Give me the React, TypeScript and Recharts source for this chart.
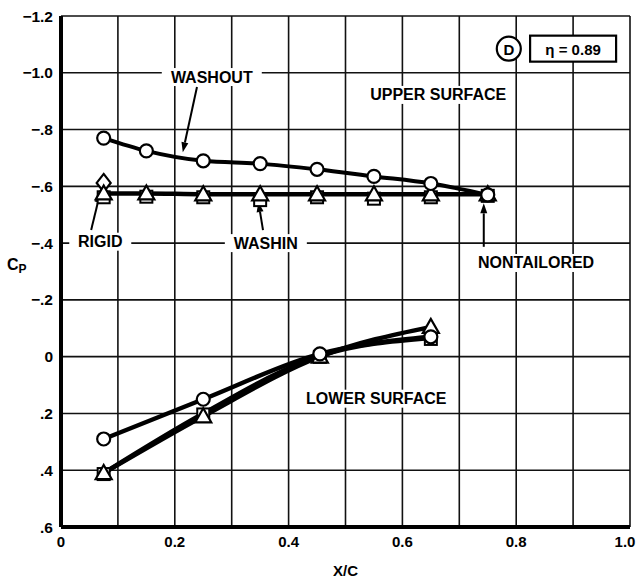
import React from "react";
import {
  ComposedChart,
  Line,
  XAxis,
  YAxis,
  CartesianGrid,
  ReferenceDot,
  ReferenceLine,
} from "recharts";

// chordwise stations
const upperX = [0.075, 0.15, 0.25, 0.35, 0.45, 0.55, 0.65, 0.75];
const lowerX = [0.075, 0.25, 0.455, 0.65];

// upper surface Cp
const washoutUpper = [-0.77, -0.725, -0.69, -0.68, -0.66, -0.635, -0.61, -0.57];
const nontailoredUpper = [-0.575, -0.575, -0.572, -0.572, -0.572, -0.572, -0.572, -0.572];
const washinUpper = [-0.565, -0.567, -0.565, -0.555, -0.565, -0.56, -0.565, -0.57];
const rigidX = [0.075];
const rigidUpper = [-0.612];

// lower surface Cp
const washoutLower = [0.29, 0.15, -0.01, -0.07];
const nontailoredLower = [0.41, 0.21, 0.0, -0.105];
const washinLower = [0.41, 0.2, -0.003, -0.066];

const xTicks = [0, 0.1, 0.2, 0.3, 0.4, 0.5, 0.6, 0.7, 0.8, 0.9, 1.0];
const yTicks = [-1.2, -1.0, -0.8, -0.6, -0.4, -0.2, 0, 0.2, 0.4, 0.6];
const yLabels = ["\u22121.2", "\u22121.0", "\u2212.8", "\u2212.6", "\u2212.4", "\u2212.2", "0", ".2", ".4", ".6"];
const xLabels = ["0", "", "0.2", "", "0.4", "", "0.6", "", "0.8", "", "1.0"];

const FONT = "'Liberation Sans', Arial, sans-serif";

const pts = (xs: number[], ys: number[]) => xs.map((x, i) => ({ x, y: ys[i] }));

const Circle = (p: any) => (
  <circle key={p.index} cx={p.cx} cy={p.cy} r={6.5} fill="#fff" stroke="#000" strokeWidth={2.2} />
);
const Triangle = (p: any) => (
  <polygon
    key={p.index}
    points={`${p.cx},${p.cy - 8} ${p.cx - 8},${p.cy + 6} ${p.cx + 8},${p.cy + 6}`}
    fill="#fff"
    stroke="#000"
    strokeWidth={2.2}
  />
);
const Square = (p: any) => (
  <rect key={p.index} x={p.cx - 6} y={p.cy - 5} width={12} height={12} fill="#fff" stroke="#000" strokeWidth={2} />
);
const Diamond = (p: any) => (
  <polygon
    key={p.index}
    points={`${p.cx},${p.cy - 9} ${p.cx + 7},${p.cy} ${p.cx},${p.cy + 9} ${p.cx - 7},${p.cy}`}
    fill="#fff"
    stroke="#000"
    strokeWidth={2.2}
  />
);

const Arrow = (p: any) => {
  const { x1, y1, x2, y2 } = p;
  const a = Math.atan2(y2 - y1, x2 - x1);
  const L = 10;
  const W = 3.5;
  const bx = x2 - L * Math.cos(a);
  const by = y2 - L * Math.sin(a);
  const nx = -Math.sin(a) * W;
  const ny = Math.cos(a) * W;
  return (
    <g>
      <line x1={x1} y1={y1} x2={bx} y2={by} stroke="#000" strokeWidth={2} />
      <polygon points={`${x2},${y2} ${bx + nx},${by + ny} ${bx - nx},${by - ny}`} fill="#000" />
    </g>
  );
};

const TextBox = ({ viewBox, text, w }: any) => {
  const { x, y } = viewBox;
  return (
    <g>
      <rect x={x - w / 2} y={y - 9} width={w} height={18} fill="#fff" />
      <text x={x} y={y} textAnchor="middle" dominantBaseline="central" fontFamily={FONT} fontWeight={700} fontSize={16} fill="#000">
        {text}
      </text>
    </g>
  );
};

const CircleD = ({ viewBox }: any) => (
  <g>
    <circle cx={viewBox.x} cy={viewBox.y} r={12} fill="#fff" stroke="#000" strokeWidth={2.2} />
    <text x={viewBox.x} y={viewBox.y + 1} textAnchor="middle" dominantBaseline="central" fontFamily={FONT} fontWeight={700} fontSize={15}>
      D
    </text>
  </g>
);

const EtaBox = ({ viewBox }: any) => (
  <g>
    <rect x={viewBox.x - 43} y={viewBox.y - 13} width={86} height={26} fill="#fff" stroke="#000" strokeWidth={2.2} />
    <text x={viewBox.x} y={viewBox.y + 1} textAnchor="middle" dominantBaseline="central" fontFamily={FONT} fontWeight={700} fontSize={15}>
      η = 0.89
    </text>
  </g>
);

const annotations = [
  { x: 0.265, y: -0.985, text: "WASHOUT", w: 100 },
  { x: 0.663, y: -0.922, text: "UPPER SURFACE", w: 140 },
  { x: 0.069, y: -0.405, text: "RIGID", w: 62 },
  { x: 0.36, y: -0.4, text: "WASHIN", w: 82 },
  { x: 0.835, y: -0.33, text: "NONTAILORED", w: 146 },
  { x: 0.554, y: 0.148, text: "LOWER SURFACE", w: 146 },
];

const arrows = [
  [{ x: 0.239, y: -0.95 }, { x: 0.214, y: -0.72 }],
  [{ x: 0.053, y: -0.446 }, { x: 0.069, y: -0.578 }],
  [{ x: 0.355, y: -0.446 }, { x: 0.347, y: -0.545 }],
  [{ x: 0.743, y: -0.387 }, { x: 0.743, y: -0.54 }],
];

const XTick = ({ x, y, payload, index }: any) => {
  const label = xLabels[index];
  if (!label) return null;
  const shift = index === xTicks.length - 1 ? -5 : 0;
  return (
    <text x={x + shift} y={y} dy="0.71em" textAnchor="middle" fontFamily={FONT} fontWeight={700} fontSize={15} fill="#000">
      {label}
    </text>
  );
};

const YTick = ({ x, y, index }: any) => (
  <text x={x} y={y} dy="0.355em" textAnchor="end" fontFamily={FONT} fontWeight={700} fontSize={15.5} fill="#000">
    {yLabels[index]}
  </text>
);

const YLabel = ({ viewBox }: any) => (
  <text x={viewBox.x + 7} y={viewBox.y + 254} fontFamily={FONT} fontWeight={700} fontSize={16} fill="#000">
    C
    <tspan fontSize={12} dy={3}>
      P
    </tspan>
  </text>
);

export default function App() {
  return (
    <div style={{ position: "absolute", left: 0, top: 0, background: "#fff" }}>
      <ComposedChart width={638} height={581} margin={{ top: 16, right: 8, bottom: 24, left: 0 }}>
        <CartesianGrid stroke="#111" strokeWidth={1.6} />
        <XAxis
          type="number"
          dataKey="x"
          domain={[0, 1]}
          ticks={xTicks}
          interval={0}
          tickLine={false}
          tickMargin={3}
          height={30}
          axisLine={{ stroke: "#000", strokeWidth: 4 }}
          tick={<XTick />}
          label={{ value: "X/C", position: "insideBottom", offset: -19, fill: "#000", fontFamily: FONT, fontWeight: 700, fontSize: 15 }}
        />
        <YAxis
          type="number"
          dataKey="y"
          domain={[-1.2, 0.6]}
          reversed
          ticks={yTicks}
          interval={0}
          width={61}
          tickLine={false}
          tickMargin={2}
          axisLine={{ stroke: "#000", strokeWidth: 4 }}
          tick={<YTick />}
          label={<YLabel />}
        />

        {annotations.map((a) => (
          <ReferenceDot
            key={a.text}
            x={a.x}
            y={a.y}
            r={0}
            fill="none"
            stroke="none"
            label={<TextBox text={a.text} w={a.w} />}
          />
        ))}
        {arrows.map((seg, i) => (
          <ReferenceLine key={i} segment={seg} shape={Arrow} />
        ))}
        <ReferenceDot x={0.787} y={-1.085} r={0} fill="none" stroke="none" label={<CircleD />} />
        <ReferenceDot x={0.9} y={-1.085} r={0} fill="none" stroke="none" label={<EtaBox />} />

        {/* curves */}
        <Line data={pts(upperX, washoutUpper)} dataKey="y" type="monotone" stroke="#000" strokeWidth={4} dot={false} isAnimationActive={false} />
        <Line data={pts(upperX, nontailoredUpper)} dataKey="y" type="monotone" stroke="#000" strokeWidth={4.5} dot={false} isAnimationActive={false} />
        <Line data={pts(lowerX, washoutLower)} dataKey="y" type="monotone" stroke="#000" strokeWidth={4.5} dot={false} isAnimationActive={false} />
        <Line data={pts(lowerX, nontailoredLower)} dataKey="y" type="monotone" stroke="#000" strokeWidth={4.5} dot={false} isAnimationActive={false} />
        <Line data={pts(lowerX, washinLower)} dataKey="y" type="monotone" stroke="#000" strokeWidth={4.5} dot={false} isAnimationActive={false} />

        {/* markers */}
        <Line data={pts(upperX, washinUpper)} dataKey="y" stroke="none" dot={Square} isAnimationActive={false} />
        <Line data={pts(lowerX, washinLower)} dataKey="y" stroke="none" dot={Square} isAnimationActive={false} />
        <Line data={pts(rigidX, rigidUpper)} dataKey="y" stroke="none" dot={Diamond} isAnimationActive={false} />
        <Line data={pts(upperX, nontailoredUpper)} dataKey="y" stroke="none" dot={Triangle} isAnimationActive={false} />
        <Line data={pts(lowerX, nontailoredLower)} dataKey="y" stroke="none" dot={Triangle} isAnimationActive={false} />
        <Line data={pts(upperX, washoutUpper)} dataKey="y" stroke="none" dot={Circle} isAnimationActive={false} />
        <Line data={pts(lowerX, washoutLower)} dataKey="y" stroke="none" dot={Circle} isAnimationActive={false} />
      </ComposedChart>
    </div>
  );
}
